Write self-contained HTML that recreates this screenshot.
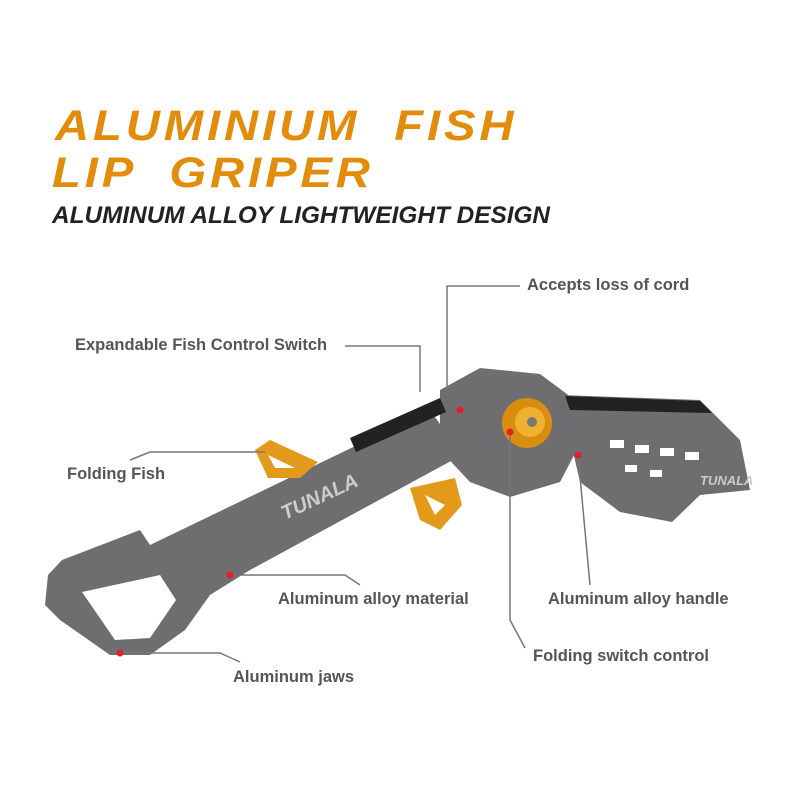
<!DOCTYPE html>
<html><head><meta charset="utf-8"><style>
body{margin:0;width:800px;height:800px;background:#fff;position:relative;overflow:hidden;font-family:"Liberation Sans",sans-serif}
.t{position:absolute;color:#e38c0b;font-weight:bold;font-style:italic;font-size:43px;line-height:43px;letter-spacing:3.5px;white-space:pre;transform:scaleX(1.1);transform-origin:left}
.s{position:absolute;left:52px;top:202px;font-size:24px;font-weight:bold;font-style:italic;color:#222;white-space:nowrap;transform:scaleX(1.015);transform-origin:left}
.l{position:absolute;font-size:16.5px;font-weight:bold;color:#555;white-space:nowrap}
svg{position:absolute;left:0;top:0}
</style></head><body>
<div class="t" style="left:55px;top:105px">ALUMINIUM  FISH</div>
<div class="t" style="left:52px;top:152px">LIP  GRIPER</div>
<div class="s">ALUMINUM ALLOY LIGHTWEIGHT DESIGN</div>
<svg width="800" height="800">
<g fill="#6e6d70">
<path d="M48,575 L62,560 L140,530 L150,545 L430,410 L462,455 L250,570 L210,595 L185,630 L150,655 L110,655 L60,620 L45,605 Z M82,592 L160,575 L176,600 L150,638 L115,640 Z" fill-rule="evenodd"/>
<path d="M440,390 L480,368 L540,374 L575,400 L582,440 L560,482 L510,497 L470,482 L440,450 Z"/>
<path d="M560,395 L700,400 L740,440 L750,490 L700,495 L672,522 L620,512 L580,482 Z"/>
</g>
<path d="M350,438 L440,398 L446,412 L356,452 Z" fill="#222"/>
<path d="M565,396 L700,401 L712,413 L570,410 Z" fill="#222"/>
<g fill="#fff"><rect x="610" y="440" width="14" height="8"/><rect x="635" y="445" width="14" height="8"/><rect x="660" y="448" width="14" height="8"/><rect x="685" y="452" width="14" height="8"/><rect x="625" y="465" width="12" height="7"/><rect x="650" y="470" width="12" height="7"/></g>
<path d="M255,450 L270,440 L318,462 L300,478 L268,478 Z M268,455 L275,468 L295,468 Z" fill="#e39a1a" fill-rule="evenodd"/>
<path d="M410,488 L455,478 L462,505 L440,530 L420,520 Z M425,495 L445,505 L435,515 Z" fill="#e39a1a" fill-rule="evenodd"/>
<circle cx="527" cy="423" r="25" fill="#d98e10"/><circle cx="530" cy="422" r="15" fill="#f0b030"/><circle cx="532" cy="422" r="5" fill="#777"/>
<text x="285" y="520" font-family="Liberation Sans" font-weight="bold" font-style="italic" font-size="20" fill="#ccc" transform="rotate(-25 285 520)">TUNALA</text>
<text x="700" y="485" font-family="Liberation Sans" font-weight="bold" font-style="italic" font-size="13" fill="#ccc">TUNALA</text>
<g stroke="#777" stroke-width="1.5" fill="none">
<polyline points="520,286 447,286 447,395"/>
<polyline points="345,346 420,346 420,392"/>
<polyline points="130,460 150,452 265,452"/>
<polyline points="230,575 345,575 360,585"/>
<polyline points="120,653 220,653 240,662"/>
<polyline points="578,455 590,585"/>
<polyline points="510,432 510,620 525,648"/>
</g>
<g fill="#e0202a"><circle cx="460" cy="410" r="3.5"/><circle cx="230" cy="575" r="3.5"/><circle cx="120" cy="653" r="3.5"/><circle cx="578" cy="455" r="3.5"/><circle cx="510" cy="432" r="3.5"/></g>
</svg>
<div class="l" style="left:527px;top:276px">Accepts loss of cord</div>
<div class="l" style="left:75px;top:336px">Expandable Fish Control Switch</div>
<div class="l" style="left:67px;top:465px">Folding Fish</div>
<div class="l" style="left:278px;top:590px">Aluminum alloy material</div>
<div class="l" style="left:548px;top:590px">Aluminum alloy handle</div>
<div class="l" style="left:533px;top:647px">Folding switch control</div>
<div class="l" style="left:233px;top:668px">Aluminum jaws</div>
</body></html>
